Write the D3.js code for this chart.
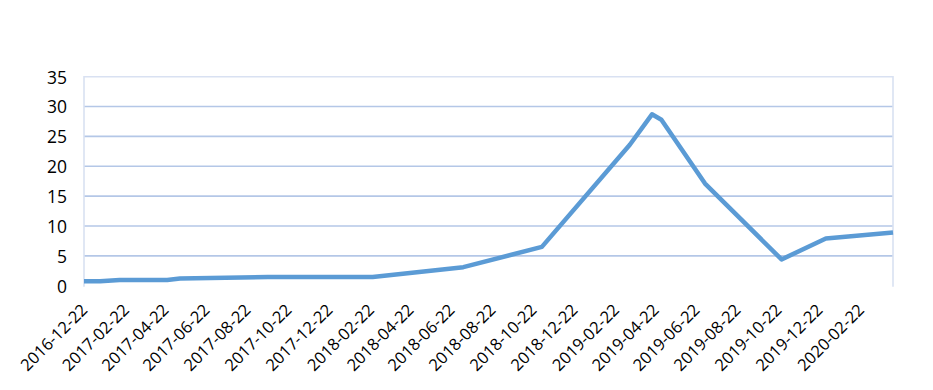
<!DOCTYPE html>
<html>
<head>
<meta charset="utf-8">
<script src="https://cdn.jsdelivr.net/npm/d3@7"></script>
<style>
	body { margin: 0; background: #fff; }
	svg text { font-family: "Open Sans", "Liberation Sans", Arial, sans-serif; fill: #000; }
</style>
</head>
<body>
<svg id="chart" width="933" height="390"></svg>
<script>
// values
var dates = ['2016-12-22','2017-01-15','2017-02-13','2017-04-25','2017-05-14','2017-09-22',
	'2018-02-25','2018-07-10','2018-11-04','2019-03-15','2019-04-17','2019-05-01',
	'2019-07-05','2019-10-27','2020-01-01','2020-04-10'];
var values = [0.75, 0.75, 0.95, 0.95, 1.2, 1.45,
	1.45, 3.1, 6.5, 23.6, 28.7, 27.8,
	17.1, 4.4, 7.9, 8.9];
var tick_labels = ['2016-12-22','2017-02-22','2017-04-22','2017-06-22','2017-08-22','2017-10-22',
	'2017-12-22','2018-02-22','2018-04-22','2018-06-22','2018-08-22','2018-10-22',
	'2018-12-22','2019-02-22','2019-04-22','2019-06-22','2019-08-22','2019-10-22',
	'2019-12-22','2020-02-22'];
var y_ticks = [0, 5, 10, 15, 20, 25, 30, 35];

var parse = d3.utcParse('%Y-%m-%d');
var data = dates.map(function(d, i){ return [parse(d), values[i]]; });

var plot = { left: 84, right: 893, top: 76.7, bottom: 285.7 };

var svg = d3.select('#chart');

var scale_x = d3.scaleUtc()
				.domain(d3.extent(data, function(d){ return d[0]; }))
				.range([plot.left, plot.right]);
var scale_y = d3.scaleLinear()
				.domain([0, 35])
				.range([plot.bottom, plot.top]);

// gridlines (35 is drawn by the border)
var grid = svg.append('g').attr('class','grid');
grid.selectAll('line')
	.data(y_ticks.filter(function(v){ return v > 0 && v < 35; }))
	.enter()
		.append('line')
		.attr('x1', plot.left).attr('x2', plot.right)
		.attr('y1', function(d){ return scale_y(d); })
		.attr('y2', function(d){ return scale_y(d); })
		.attr('stroke', '#b4c7e7')
		.attr('stroke-width', 1.6);

// plot area border, left / top / right
svg.append('path')
	.attr('d', 'M' + plot.left + ',' + (plot.bottom + 1) + 'V' + plot.top + 'H' + plot.right + 'V' + (plot.bottom + 1))
	.attr('fill', 'none')
	.attr('stroke', '#d9e1f2')
	.attr('stroke-width', 1.6);

// y axis labels
var yaxis = d3.axisLeft(scale_y).tickValues(y_ticks).tickSize(0).tickPadding(17);
svg.append('g')
	.attr('class','axis axis-y')
	.attr('transform','translate(' + plot.left + ',0)')
	.call(yaxis)
	.call(function(g){ g.select('.domain').remove(); })
	.selectAll('text')
		.style('font-size', '17.5px')
		.attr('dy', '0.36em');

// x axis labels, rotated
svg.append('g')
	.attr('class','axis axis-x')
	.selectAll('text')
	.data(tick_labels)
	.enter()
		.append('text')
		.attr('transform', function(d){
			return 'translate(' + (scale_x(parse(d)) + 4.5) + ',311) rotate(-45)';
		})
		.attr('text-anchor', 'end')
		.style('font-size', '16.5px')
		.text(function(d){ return d; });

// the series
var line = d3.line()
			.x(function(d){ return scale_x(d[0]); })
			.y(function(d){ return scale_y(d[1]); });
svg.append('path')
	.datum(data)
	.attr('class','line')
	.attr('d', line)
	.attr('fill', 'none')
	.attr('stroke', '#5b9bd5')
	.attr('stroke-width', 4.5)
	.attr('stroke-linejoin', 'round')
	.attr('stroke-linecap', 'butt');
</script>
</body>
</html>
